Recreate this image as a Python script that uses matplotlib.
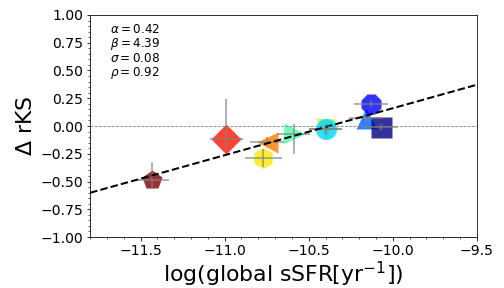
import matplotlib
matplotlib.use('Agg')
import matplotlib.pyplot as plt
import numpy as np
from matplotlib.ticker import AutoMinorLocator, MultipleLocator

# measured points
ssfr = [-11.43, -10.99, -10.75, -10.77, -10.40, -10.59, -10.40, -10.16, -10.13, -10.07]
drks = [-0.49, -0.12, -0.14, -0.29, -0.03, -0.07, -0.025, 0.07, 0.20, -0.01]
ssfr_err = [0.10, 0.10, 0.10, 0.11, 0.10, 0.10, 0.10, 0.10, 0.10, 0.10]
drks_lo = [0.08, 0.10, 0.04, 0.08, 0.05, 0.18, 0.04, 0.03, 0.03, 0.03]
drks_hi = [0.17, 0.36, 0.04, 0.08, 0.05, 0.09, 0.04, 0.03, 0.03, 0.03]
markers = ['p', 'D', '<', 'h', 'v', '>', 'o', '^', '8', 's']

alpha_fit = 0.42
beta_fit = 4.39
sigma_fit = 0.08
rho_fit = 0.92
slope_line = 0.423

fig = plt.figure(figsize=(7, 4), dpi=72)
ax = fig.add_axes([0.179, 0.177, 0.767, 0.771])

colors = plt.cm.jet(np.linspace(1, 0, len(ssfr)))
for i in range(len(ssfr)):
    ax.plot(ssfr[i], drks[i], marker=markers[i], ms=21, color=colors[i],
            alpha=0.8, ls='none', mec='none')
ax.errorbar(ssfr, drks, xerr=ssfr_err, yerr=[drks_lo, drks_hi], fmt='none',
            ecolor='grey', alpha=0.6, elinewidth=2)

xx = np.array([-11.8, -9.5])
ax.plot(xx, slope_line * xx + beta_fit, 'k--', lw=2)
ax.axhline(0, color='grey', ls='--', lw=0.8)

ax.text(0.05, 0.965, r'$\alpha = %.2f$' % alpha_fit + '\n' +
        r'$\beta = %.2f$' % beta_fit + '\n' +
        r'$\sigma = %.2f$' % sigma_fit + '\n' +
        r'$\rho = %.2f$' % rho_fit,
        transform=ax.transAxes, va='top', ha='left', fontsize=12,
        linespacing=1.0)

ax.set_xlim(-11.8, -9.5)
ax.set_ylim(-1, 1)
ax.yaxis.set_major_locator(MultipleLocator(0.25))
ax.xaxis.set_minor_locator(AutoMinorLocator(5))
ax.yaxis.set_minor_locator(AutoMinorLocator(5))
ax.tick_params(labelsize=14)
ax.set_xlabel(r'log(global sSFR[yr$^{-1}$])', fontsize=22, labelpad=2)
ax.set_ylabel(r'$\Delta$ rKS', fontsize=22)

fig.savefig('out.png', dpi=72)
